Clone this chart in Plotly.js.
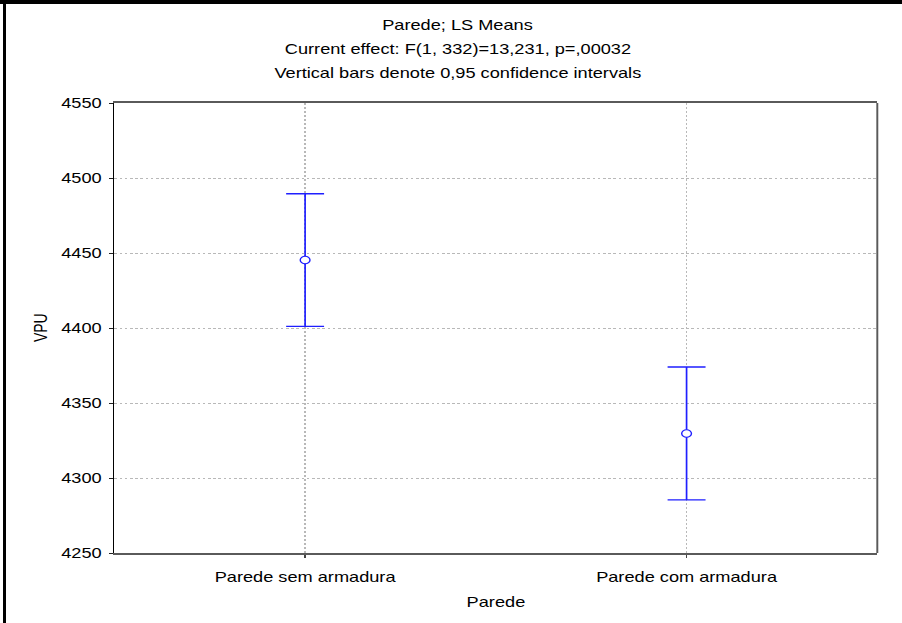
<!DOCTYPE html>
<html>
<head>
<meta charset="utf-8">
<script src="https://cdn.plot.ly/plotly-3.0.1.min.js"></script>
<style>
  html, body { margin: 0; padding: 0; background: #fff; }
  #wrap { position: relative; width: 902px; height: 623px; overflow: hidden; background: #fff; }
  #chart { position: absolute; left: 0; top: 0; width: 694px; height: 623px; transform: scaleX(1.29971); transform-origin: 0 0; }
  .bar-top { position: absolute; left: 0; top: 0; width: 902px; height: 4px; background: #000; }
  .bar-left { position: absolute; left: 3px; top: 0; width: 3px; height: 623px; background: #000; }
</style>
</head>
<body>
<div id="wrap">
  <div id="chart"></div>
  <div class="bar-top"></div>
  <div class="bar-left"></div>
</div>
<script>
// ---- data ----
const categories = ['Parede sem armadura', 'Parede com armadura'];
const lsMeans = [4445.3, 4329.7];
const ciHalfWidth = [44.2, 44.3];
const yTickValues = [4250, 4300, 4350, 4400, 4450, 4500, 4550];
const yTickLabels = ['4250', '4300', '4350', '4400', '4450', '4500', '4550'];
const titleLines = [
  'Parede; LS Means',
  'Current effect: F(1, 332)=13,231, p=,00032',
  'Vertical bars denote 0,95 confidence intervals'
];
const xTitle = 'Parede';
const yTitle = 'VPU';

const FONT = 'Liberation Sans, Arial, sans-serif';
const BLUE = '#1f1fff';

const trace = {
  type: 'scatter',
  mode: 'markers',
  x: categories,
  y: lsMeans,
  marker: { symbol: 'circle', size: 7.5, color: '#ffffff', line: { width: 1.1, color: BLUE } },
  error_y: { type: 'data', array: ciHalfWidth, visible: true, color: BLUE, thickness: 1.3, width: 14.6 },
  hoverinfo: 'none',
  showlegend: false
};

const titleY = [1.1733, 1.12, 1.0667];
const annotations = titleLines.map((t, i) => ({
  text: t, xref: 'paper', yref: 'paper', x: 0.4502, y: titleY[i],
  xanchor: 'center', yanchor: 'middle', showarrow: false,
  font: { family: FONT, size: 14, color: '#000' }
}));
annotations.push({
  text: xTitle, xref: 'paper', yref: 'paper', x: 0.5, y: -0.1089,
  xanchor: 'center', yanchor: 'middle', showarrow: false,
  font: { family: FONT, size: 14, color: '#000' }
});
annotations.push({
  text: yTitle, xref: 'paper', yref: 'paper', x: -0.0969, y: 0.5,
  xanchor: 'center', yanchor: 'middle', showarrow: false, textangle: -90,
  font: { family: FONT, size: 14, color: '#000' }
});

const layout = {
  width: 694,
  height: 623,
  margin: { l: 87.71, r: 19.23, t: 103, b: 70, pad: 0 },
  paper_bgcolor: '#fff',
  plot_bgcolor: '#fff',
  font: { family: FONT, size: 14, color: '#000' },
  xaxis: {
    type: 'category',
    range: [-0.5, 1.5],
    showgrid: true, gridcolor: '#b8b8b8', griddash: '2px,2px', gridwidth: 1,
    ticks: 'outside', ticklen: 3, tickcolor: '#444', tickwidth: 1,
    ticklabelstandoff: 7,
    tickfont: { family: FONT, size: 14, color: '#000' },
    showline: true, linecolor: '#5a5a5a', linewidth: 2, mirror: true,
    zeroline: false, fixedrange: true
  },
  yaxis: {
    range: [4250, 4550],
    tickvals: yTickValues, ticktext: yTickLabels,
    showgrid: true, gridcolor: '#b8b8b8', griddash: '2px,2px', gridwidth: 1,
    ticks: 'outside', ticklen: 3, tickcolor: '#222', tickwidth: 1,
    ticklabelstandoff: 3,
    tickfont: { family: FONT, size: 14, color: '#000' },
    showline: true, linecolor: '#000', linewidth: 1, mirror: false,
    zeroline: false, fixedrange: true
  },
  shapes: [
    { type: 'line', xref: 'paper', yref: 'paper', x0: 1, x1: 1, y0: 0, y1: 1,
      line: { color: '#5a5a5a', width: 1.5 } }
  ],
  annotations: annotations
};

Plotly.newPlot('chart', [trace], layout, { displayModeBar: false, staticPlot: true });
</script>
</body>
</html>
